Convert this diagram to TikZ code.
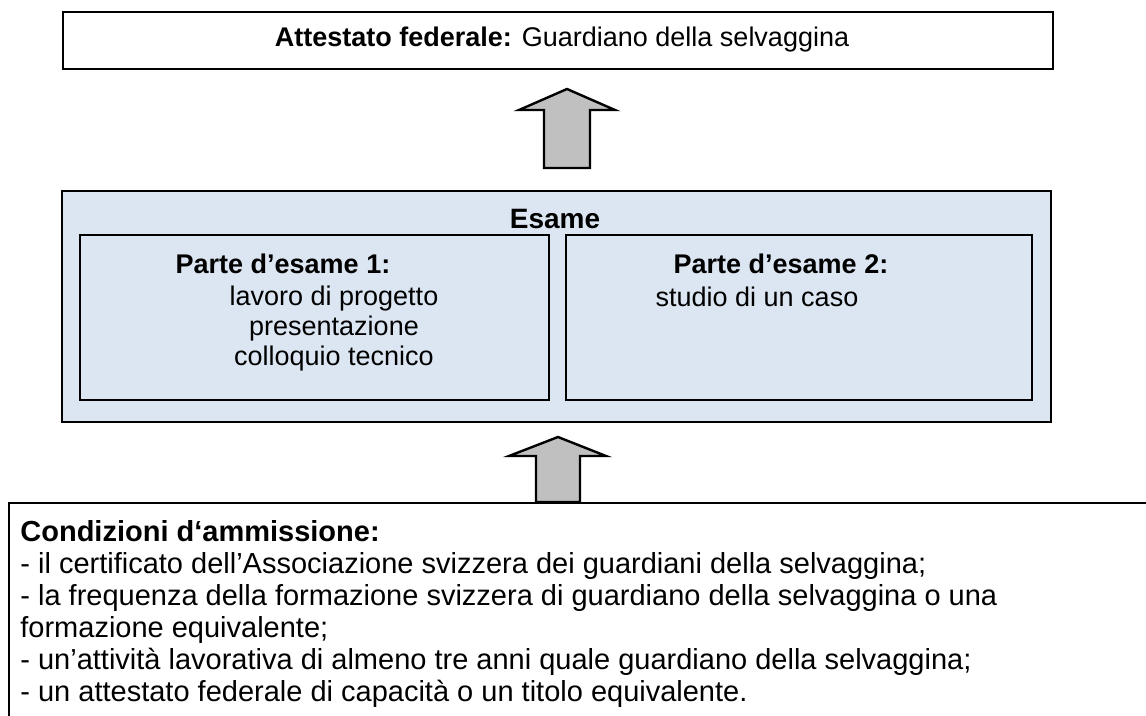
\documentclass[tikz,border=0pt]{standalone}
\usepackage{fontspec}
\setmainfont{Liberation Sans}
\definecolor{paleblue}{HTML}{DCE6F2}
\definecolor{arrowgray}{HTML}{C0C0C0}
\tikzset{
  box/.style={draw, line width=1.1pt, inner sep=0pt, rectangle},
  bluebox/.style={box, fill=paleblue},
  blockarrow/.style={draw, line width=1.2pt, fill=arrowgray, line join=miter},
  txt/.style={inner sep=0pt, font=\fontsize{13.5}{15}\selectfont},
}
\begin{document}
\begin{tikzpicture}[x=0.5pt, y=-0.5pt]
      \useasboundingbox (0,0) rectangle (1146,716);
      \clip (0,0) rectangle (1146,716);
      % top box
      \node[box, minimum width=495pt, minimum height=28.5pt] (attestato) at (558,40.5) {};
      \node[txt] (titolo) at (562,40) {\textbf{Attestato federale:} Guardiano della selvaggina};
      % exam
      \node[bluebox, minimum width=494.5pt, minimum height=115.5pt] (esame) at (556.5,306.5) {};
      \node[txt, font=\fontsize{14}{15}\selectfont] (esametit) at (555,219) {\textbf{Esame}};
      \node[bluebox, minimum width=234.5pt, minimum height=82.5pt] (parte1) at (314.5,317.5) {};
      \node[bluebox, minimum width=233pt, minimum height=82.5pt] (parte2) at (799,317.5) {};
      \node[txt] (parte1tit) at (283,264) {\textbf{Parte d’esame 1:}};
      \node[txt, align=center, anchor=north] (parte1txt) at (334,286)
        {lavoro di progetto\\presentazione\\colloquio tecnico};
      \node[txt] (parte2tit) at (781,264) {\textbf{Parte d’esame 2:}};
      \node[txt] (parte2txt) at (757,297) {studio di un caso};
      % admission
      \node[box, anchor=north west, minimum width=600pt, minimum height=130pt] (condizioni) at (8,502) {};
      \node[txt, anchor=north west, align=left, font=\fontsize{14.5}{16}\selectfont] (condtesto) at (20,520)
        {\textbf{Condizioni d‘ammissione:}\\
         - il certificato dell’Associazione svizzera dei guardiani della selvaggina;\\
         - la frequenza della formazione svizzera di guardiano della selvaggina o una\\
         formazione equivalente;\\
         - un’attività lavorativa di almeno tre anni quale guardiano della selvaggina;\\
         - un attestato federale di capacità o un titolo equivalente.};
      % arrows
      \draw[blockarrow] (544,168) -- (544,110) -- (519,110) -- (567,89)
        -- (615,110) -- (590,110) -- (590,168) -- cycle;
      \draw[blockarrow] (536,502) -- (536,456) -- (509,456) -- (558,437)
        -- (606,456) -- (580,456) -- (580,502) -- cycle;
    \end{tikzpicture}
\end{document}
